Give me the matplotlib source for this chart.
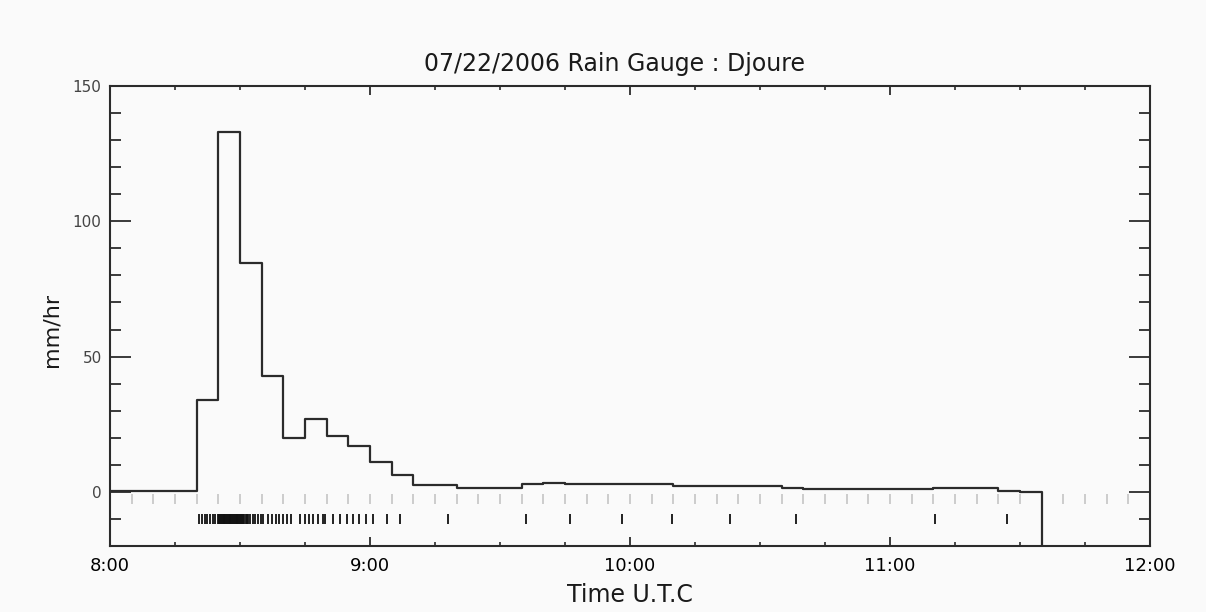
import matplotlib
matplotlib.use("Agg")
import matplotlib.pyplot as plt
from matplotlib.ticker import MultipleLocator, FixedLocator

# ---- data (time in minutes after 08:00 UTC) ----
step_start_min = [0, 20, 25, 30, 35, 40, 45, 50, 55, 60, 65, 70, 80, 95, 100, 105,
                  130, 155, 160, 190, 205, 210]
rain_rate_mmhr = [0.4, 34, 133, 84.5, 43, 20, 27, 20.5, 17, 11, 6.3, 2.7, 1.6, 2.8, 3.2, 2.8,
                  2.1, 1.6, 0.9, 1.6, 0.4, -0.2]
record_end_min = 215

bin_edges_min = [5, 10, 15, 20, 25, 30, 35, 40, 45, 50, 55, 60, 65, 70, 75, 80, 85, 90, 95,
                 100, 105, 110, 115, 120, 125, 130, 135, 140, 145, 150, 155, 160, 165, 170,
                 175, 180, 185, 190, 195, 200, 205, 210, 215, 220, 225, 230, 235]

tip_times_min = [20.6, 21.2, 21.85, 22.45, 23.1, 23.7, 24.3,
                 25.0, 25.2, 25.4, 25.6, 25.8, 26.0, 26.2, 26.4, 26.6, 26.8, 27.0, 27.2,
                 27.4, 27.6, 27.8, 28.0, 28.2, 28.4, 28.6, 28.8, 29.0, 29.2, 29.4, 29.6,
                 29.8, 30.0, 30.25, 30.5, 30.75, 31.0, 31.3, 31.6, 31.9,
                 32.3, 32.9, 33.5, 34.15, 34.8, 35.4, 36.5, 37.3, 38.3, 39.1, 40.0, 40.9,
                 41.7, 43.8, 45.0, 46.0, 46.9, 47.9, 49.1, 49.6, 51.5, 53.1, 54.6, 56.1,
                 57.5, 59.1, 60.8, 63.9, 66.9, 78.1, 96.0, 106.2, 118.1, 129.6, 143.1,
                 158.4, 190.4, 206.9]

hour_ticks_min = [0, 60, 120, 180, 240]
hour_labels = ["8:00", "9:00", "10:00", "11:00", "12:00"]

# ---- figure ----
bg = "#fafafa"
fig = plt.figure(figsize=(12.06, 6.12), dpi=100, facecolor=bg)
ax = fig.add_axes([0.0912, 0.1078, 0.8624, 0.7517], facecolor=bg)

ink = "#2b2b2b"

# grey bin boundary marks just below zero
ax.vlines(bin_edges_min, -4.3, -0.6, colors="#c0c0c0", linewidth=1.1, zorder=1)

# step trace
xs = list(step_start_min) + [record_end_min, record_end_min]
ys = list(rain_rate_mmhr) + [rain_rate_mmhr[-1], -100]
ax.plot(xs, ys, drawstyle="steps-post", color=ink, linewidth=1.6, zorder=3)

# bucket tip events
ax.plot(tip_times_min, [-10] * len(tip_times_min), linestyle="none", marker="|",
        markersize=7.5, markeredgewidth=1.3, color="#111111", zorder=3)

ax.set_xlim(0, 240)
ax.set_ylim(-20, 150)

ax.xaxis.set_major_locator(FixedLocator(hour_ticks_min))
ax.set_xticklabels(hour_labels)
ax.xaxis.set_minor_locator(MultipleLocator(15))
ax.yaxis.set_major_locator(MultipleLocator(50))
ax.yaxis.set_minor_locator(MultipleLocator(10))

ax.tick_params(axis="x", which="major", direction="in", length=6.5, width=1.3,
               top=True, bottom=True, labelsize=13, pad=8, colors=ink, labelcolor="black")
ax.tick_params(axis="x", which="minor", direction="in", length=3.2, width=1.2,
               top=True, bottom=True, colors=ink)
ax.tick_params(axis="y", which="major", direction="in", length=15, width=1.3,
               left=True, right=True, labelsize=11, pad=6, colors=ink, labelcolor="#444444")
ax.tick_params(axis="y", which="minor", direction="in", length=7.7, width=1.3,
               left=True, right=True, colors=ink)

for s in ax.spines.values():
    s.set_linewidth(1.5)
    s.set_color(ink)

ax.set_title("07/22/2006 Rain Gauge : Djoure", fontsize=17, pad=11, color="#1a1a1a", x=0.485)
ax.set_xlabel("Time U.T.C", fontsize=17, labelpad=6, color="#1a1a1a")
ax.set_ylabel("mm/hr", fontsize=16, color="#1a1a1a")
ax.yaxis.set_label_coords(-0.047, 0.47)

fig.savefig("out.png", dpi=100, facecolor=bg)
